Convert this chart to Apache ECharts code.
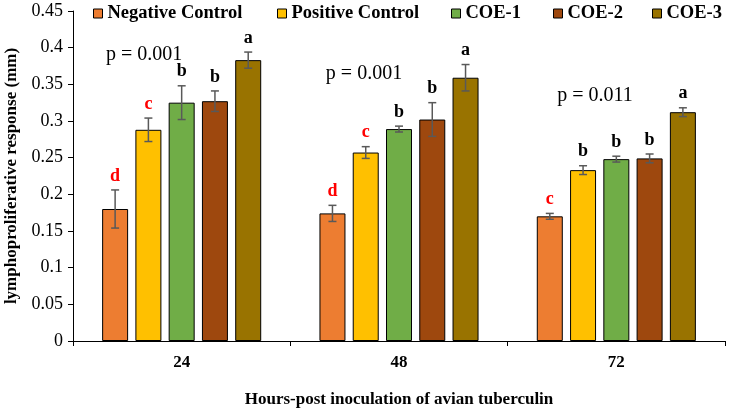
<!DOCTYPE html>
<html>
<head>
<meta charset="utf-8">
<script src="https://cdn.jsdelivr.net/npm/echarts@6/dist/echarts.min.js"></script>
<style>html,body{margin:0;padding:0;background:#fff;}#c{width:731px;height:413px;}</style>
</head>
<body>
<div id="c"></div>
<script>
const categories = ['24', '48', '72'];
const seriesNames = ['Negative Control', 'Positive Control', 'COE-1', 'COE-2', 'COE-3'];
const negativeControl = [0.180, 0.174, 0.170];
const positiveControl = [0.288, 0.257, 0.233];
const coe1 = [0.325, 0.289, 0.248];
const coe2 = [0.327, 0.302, 0.249];
const coe3 = [0.383, 0.359, 0.312];
const errNegative = [0.026, 0.011, 0.004];
const errPositive = [0.016, 0.008, 0.006];
const errCoe1 = [0.023, 0.004, 0.004];
const errCoe2 = [0.014, 0.023, 0.006];
const errCoe3 = [0.011, 0.018, 0.006];
const lettersNegative = ['d', 'd', 'c'];
const lettersPositive = ['c', 'c', 'b'];
const lettersCoe1 = ['b', 'b', 'b'];
const lettersCoe2 = ['b', 'b', 'b'];
const lettersCoe3 = ['a', 'a', 'a'];
const pValueText = ['p = 0.001', 'p = 0.001', 'p = 0.011'];
const pValueY = [0.390, 0.364, 0.334];
const yTicks = [0, 0.05, 0.1, 0.15, 0.2, 0.25, 0.3, 0.35, 0.4, 0.45];

const values = [negativeControl, positiveControl, coe1, coe2, coe3];
const errors = [errNegative, errPositive, errCoe1, errCoe2, errCoe3];
const letters = [lettersNegative, lettersPositive, lettersCoe1, lettersCoe2, lettersCoe3];
const colors = ['#ED7D31', '#FFC000', '#70AD47', '#9E480E', '#997300'];
const redLetters = ['d', 'c'];
const FONT = "'Liberation Serif', 'Times New Roman', serif";

const BAR_W = 0.1196;   // fraction of category width
const BAR_GAP = 0.28;   // fraction of bar width
const pShift = [-0.173, -0.161, -0.098];
const legendLeft = [93, 277, 451, 553, 652];

const errData = [];
values.forEach((vals, s) => {
  vals.forEach((v, c) => errData.push([c, v, errors[s][c], s, letters[s][c]]));
});
const pData = pValueText.map((t, c) => [c, pValueY[c], t]);

const barSeries = seriesNames.map((name, s) => ({
  name: name,
  type: 'bar',
  data: values[s],
  barWidth: (BAR_W * 100) + '%',
  barGap: (BAR_GAP * 100) + '%',
  itemStyle: { color: colors[s], borderColor: '#000', borderWidth: 1 },
  z: 2
}));

const legends = seriesNames.map((name, s) => ({
  data: [name],
  top: 4,
  left: legendLeft[s],
  padding: 0,
  itemWidth: 9,
  itemHeight: 9,
  icon: 'rect',
  itemStyle: { borderColor: '#000', borderWidth: 1 },
  textStyle: { fontFamily: FONT, fontWeight: 'bold', fontSize: 18.5, color: '#000' }
}));

const chart = echarts.init(document.getElementById('c'));
chart.setOption({
  animation: false,
  legend: legends,
  grid: { left: 73, right: 6, top: 11, bottom: 72, containLabel: false, outerBoundsMode: 'none' },
  xAxis: {
    type: 'category',
    data: categories,
    name: 'Hours-post inoculation of avian tuberculin',
    nameLocation: 'middle',
    nameGap: 50,
    nameTextStyle: { fontFamily: FONT, fontWeight: 'bold', fontSize: 17, color: '#000' },
    axisLine: { lineStyle: { color: '#000', width: 1 } },
    axisTick: { show: true, length: 5, lineStyle: { color: '#000' } },
    axisLabel: { fontFamily: FONT, fontWeight: 'bold', fontSize: 17, color: '#000', margin: 13 }
  },
  yAxis: {
    type: 'value',
    min: 0, max: 0.45, interval: 0.05,
    name: 'lymphoproliferative response (mm)',
    nameLocation: 'middle',
    nameGap: 52,
    nameTextStyle: { fontFamily: FONT, fontWeight: 'bold', fontSize: 17, color: '#000' },
    axisLine: { show: true, lineStyle: { color: '#000', width: 1 } },
    axisTick: { show: true, length: 5, lineStyle: { color: '#000' } },
    splitLine: { show: false },
    axisLabel: {
      fontFamily: FONT, fontSize: 18, color: '#000', margin: 10,
      formatter: v => { const t = yTicks.find(x => Math.abs(x - v) < 1e-9); return String(+(t !== undefined ? t : v).toFixed(2)); }
    }
  },
  series: barSeries.concat([
    {
      type: 'custom',
      name: 'errors',
      data: errData,
      encode: { x: 0, y: 1 },
      z: 5,
      silent: true,
      renderItem: function (params, api) {
        const c = api.value(0), v = api.value(1), e = api.value(2), s = api.value(3);
        const letter = errData[params.dataIndex][4];
        const catW = api.size([1, 0])[0];
        const bw = catW * BAR_W;
        const step = bw * (1 + BAR_GAP);
        const center = api.coord([c, v]);
        const x = center[0] + (s - 2) * step;
        const top = api.coord([c, v + e])[1];
        const bot = api.coord([c, v - e])[1];
        const cap = 4;
        const ls = { stroke: '#595959', lineWidth: 1.5 };
        return {
          type: 'group',
          children: [
            { type: 'line', shape: { x1: x, y1: top, x2: x, y2: bot }, style: ls },
            { type: 'line', shape: { x1: x - cap, y1: top, x2: x + cap, y2: top }, style: ls },
            { type: 'line', shape: { x1: x - cap, y1: bot, x2: x + cap, y2: bot }, style: ls },
            { type: 'text', x: x, y: top - 5, style: {
                text: letter, fontFamily: FONT, fontWeight: 'bold', fontSize: 18,
                fill: redLetters.indexOf(letter) >= 0 ? '#FF0000' : '#000',
                align: 'center', verticalAlign: 'bottom' } }
          ]
        };
      }
    },
    {
      type: 'custom',
      name: 'pvalues',
      data: pData,
      encode: { x: 0, y: 1 },
      z: 5,
      silent: true,
      renderItem: function (params, api) {
        const c = api.value(0), y = api.value(1);
        const catW = api.size([1, 0])[0];
        const p = api.coord([c, y]);
        return {
          type: 'text',
          x: p[0] + pShift[c] * catW,
          y: p[1],
          style: { text: pData[params.dataIndex][2], fontFamily: FONT, fontSize: 20, fill: '#000', align: 'center', verticalAlign: 'middle' }
        };
      }
    }
  ])
});
</script>
</body>
</html>
